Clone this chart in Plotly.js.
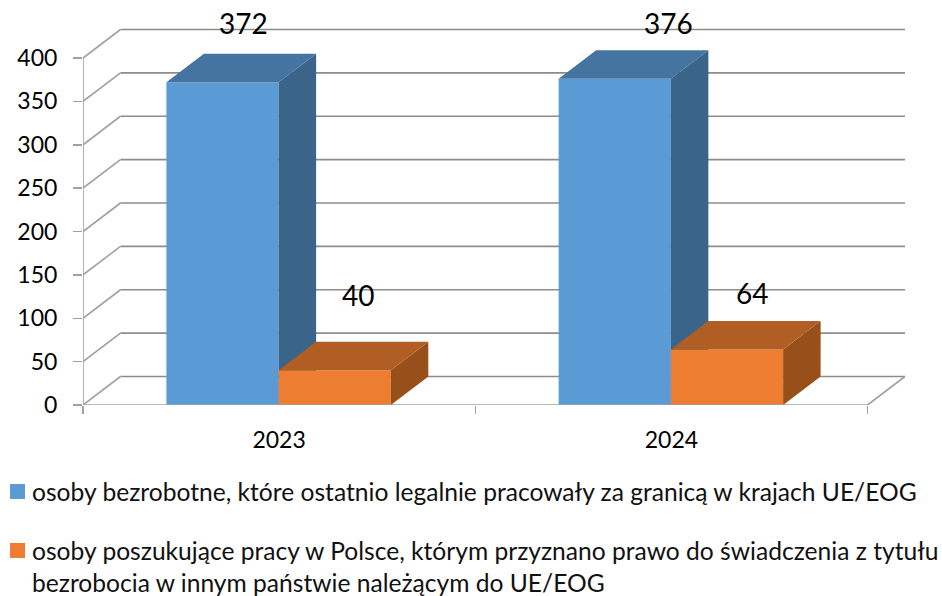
<!DOCTYPE html>
<html><head><meta charset="utf-8">
<script src="https://cdn.plot.ly/plotly-3.0.1.min.js"></script>
<style>html,body{margin:0;padding:0;background:#fff}</style></head>
<body><div id="chart" style="width:942px;height:596px"></div>
<script>
// Data
const years = ['2023', '2024'];
const seriesNames = [
  'osoby bezrobotne, które ostatnio legalnie pracowały za granicą w krajach UE/EOG',
  'osoby poszukujące pracy w Polsce, którym przyznano prawo do świadczenia z tytułu<br>bezrobocia w innym państwie należącym do UE/EOG'
];
const unemployed = [372, 376];
const jobSeekers = [40, 64];
const yTicks = [0, 50, 100, 150, 200, 250, 300, 350, 400];

// Geometry, in axis units
const pxX = 392.5, pxY = 0.8675;          // pixels per category, pixels per unit
const depthX = 37.5 / pxX, depthY = 28.5 / pxY;
const barW = 112.3 / pxX;
const nudge = -0.5 / pxX;
const centers = years.map((_, i) => i + 0.5);
const xRange = [0, 824.5 / pxX], yRange = [0, 405 / pxY];

const gray = '#8c8c8c', wall = '#a0a0a0';

function box(center, offset, values, top, side, ax) {
  const out = [];
  values.forEach((v, i) => {
    const a = center[i] + offset, b = a + barW;
    out.push({type:'scatter', mode:'lines', xaxis:'x'+ax, yaxis:'y'+ax, fill:'toself', fillcolor:side,
      line:{width:0}, showlegend:false, hoverinfo:'skip',
      x:[b, b+depthX, b+depthX, b, b], y:[0, depthY, v+depthY, v, 0]});
    out.push({type:'scatter', mode:'lines', xaxis:'x'+ax, yaxis:'y'+ax, fill:'toself', fillcolor:top,
      line:{width:0}, showlegend:false, hoverinfo:'skip',
      x:[a, a+depthX, b+depthX, b, a], y:[v, v+depthY, v+depthY, v, v]});
  });
  return out;
}

const traces = [
  {type:'bar', name:seriesNames[0], x:centers, y:unemployed, width:barW, offset:nudge-barW,
   marker:{color:'#5b9bd5'}, legendgroup:'a', xaxis:'x', yaxis:'y'},
  ...box(centers, nudge-barW, unemployed, '#44749f', '#3a6488', ''),
  {type:'bar', name:seriesNames[1], x:centers, y:jobSeekers, width:barW, offset:nudge,
   marker:{color:'#ed7d31'}, legendgroup:'b', xaxis:'x2', yaxis:'y2'},
  ...box(centers, nudge, jobSeekers, '#b15e24', '#975019', '2')
];

const lineShape = (x0, y0, x1, y1, color, layer) => ({type:'line', xref:'x', yref:'y', x0, y0, x1, y1,
  layer:layer || 'below', line:{color, width:1.6}});
const shapes = [];
yTicks.forEach(v => {
  shapes.push(lineShape(depthX, v+depthY, 2+depthX, v+depthY, gray));
  shapes.push(lineShape(0, v, depthX, v+depthY, wall));
});
shapes.push(lineShape(2, 0, 2+depthX, depthY, wall));
shapes.push(lineShape(0, 0, 0, 400, wall));
shapes.push(lineShape(0, 0, 2, 0, wall, 'above'));

const labelFont = {family:'Lato, sans-serif', size:28, color:'#000'};
const labelAt = [
  [centers[0]-barW/2 + 20/pxX, unemployed[0], unemployed[0], 31+depthY*pxY],
  [centers[1]-barW/2 + 53/pxX, unemployed[1], unemployed[1], 27+depthY*pxY],
  [centers[0]+barW/2 + 23/pxX, jobSeekers[0], jobSeekers[0], 47+depthY*pxY],
  [centers[1]+barW/2 + 25/pxX, jobSeekers[1], jobSeekers[1], 28+depthY*pxY]
];
const annotations = labelAt.map(l => ({xref:'x', yref:'y', x:l[0], y:l[1], text:String(l[2]),
  showarrow:false, yshift:l[3], font:labelFont, xanchor:'center', yanchor:'middle'}));

const layout = {
  width:942, height:596,
  margin:{l:82.5, r:35, t:0, b:191, autoexpand:false},
  paper_bgcolor:'#fff', plot_bgcolor:'rgba(0,0,0,0)',
  showlegend:true,
  legend:{x:-0.1104, xanchor:'left', y:-0.158, yanchor:'top', traceorder:'grouped', tracegroupgap:24,
    font:{family:'Lato, sans-serif', size:24.6, color:'#111'}, bgcolor:'rgba(0,0,0,0)', itemclick:false},
  xaxis:{range:xRange, tickmode:'array', tickvals:centers, ticktext:years, ticks:'', showgrid:false, zeroline:false,
    showline:false, ticklabelstandoff:19, tickfont:{family:'Lato, sans-serif', size:23, color:'#000'},
    minor:{tickmode:'array', tickvals:[0,1,2], ticks:'outside', ticklen:8, tickcolor:wall, tickwidth:1.5, showgrid:false}},
  yaxis:{range:yRange, tickmode:'array', tickvals:yTicks, ticktext:yTicks.map(String), ticks:'outside', ticklen:9,
    tickcolor:wall, tickwidth:1.5, showgrid:false, zeroline:false, showline:false, ticklabelstandoff:11,
    tickfont:{family:'Lato, sans-serif', size:23, color:'#000'}},
  xaxis2:{range:xRange, overlaying:'x', anchor:'y2', visible:false},
  yaxis2:{range:yRange, overlaying:'y', anchor:'x2', visible:false},
  shapes, annotations
};
Plotly.newPlot('chart', traces, layout, {displayModeBar:false, staticPlot:true}).then(gd => {
  // The reference legend keys are larger, closer to their text, and level with the first text line.
  gd.querySelectorAll('.legend .legendpoints path').forEach((p, i) => {
    p.setAttribute('transform', 'translate(25.5,' + (i === 0 ? 0 : -16) + ') scale(1.25)');
  });
});
</script></body></html>
